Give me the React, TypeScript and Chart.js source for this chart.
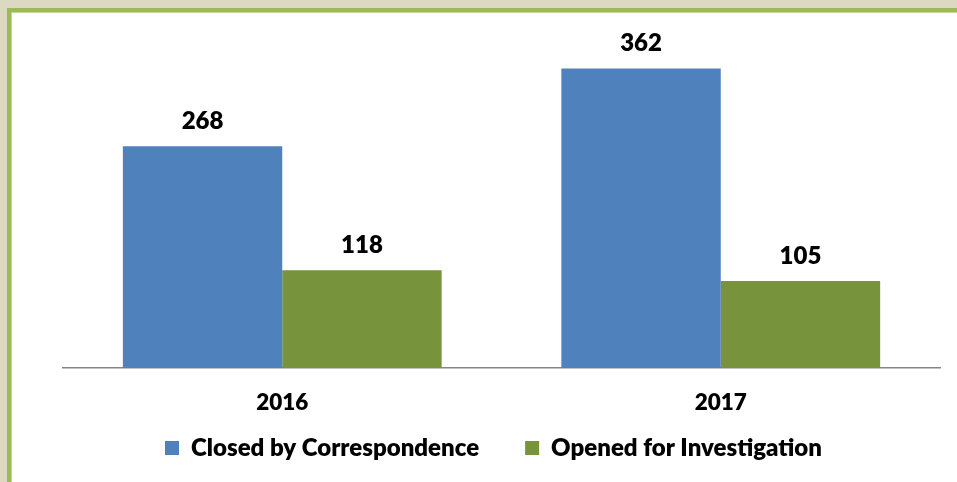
import React, { useEffect, useRef } from "react";
import { Chart, registerables } from "chart.js";

Chart.register(...registerables);

const categories = ["2016", "2017"];
const seriesNames = ["Closed by Correspondence", "Opened for Investigation"];
const closedValues = [268, 362];
const openedValues = [118, 105];
const seriesColors = ["#4F81BD", "#77933C"];

const FONT = "Lato";
const WEIGHT = 800;

const valueLabelPlugin = {
  id: "valueLabels",
  afterDatasetsDraw(chart: any) {
    const ctx = chart.ctx;
    ctx.save();
    ctx.font = `${WEIGHT} 24px ${FONT}`;
    ctx.fillStyle = "#000";
    ctx.textAlign = "center";
    ctx.textBaseline = "alphabetic";
    chart.data.datasets.forEach((ds: any, di: number) => {
      const meta = chart.getDatasetMeta(di);
      meta.data.forEach((bar: any, i: number) => {
        ctx.fillText(String(ds.data[i]), bar.x, bar.y - 17);
      });
    });
    ctx.restore();
  },
};

// Let the x-axis labels overflow the compact axis box (avoid label clipping)
// and nudge the legend horizontally.
const layoutTweakPlugin = {
  id: "layoutTweak",
  afterLayout(chart: any) {
    const x = chart.scales.x;
    if (x) {
      x.bottom = x.top + 60;
      x.height = 60;
    }
    const lg = chart.legend;
    if (lg) {
      lg.left -= 8;
      lg.right -= 8;
    }
  },
};

export default function App() {
  const ref = useRef<HTMLCanvasElement | null>(null);
  useEffect(() => {
    if (!ref.current) return;
    const chart = new Chart(ref.current, {
      type: "bar",
      data: {
        labels: categories,
        datasets: [
          { label: seriesNames[0], data: closedValues, backgroundColor: seriesColors[0] },
          { label: seriesNames[1], data: openedValues, backgroundColor: seriesColors[1] },
        ],
      },
      options: {
        animation: false,
        responsive: false,
        devicePixelRatio: 1,
        layout: { padding: { top: 37, left: 63, right: 17, bottom: 12 } },
        datasets: { bar: { barPercentage: 1, categoryPercentage: 0.727 } },
        scales: {
          x: {
            grid: { display: false, drawTicks: false },
            border: { display: true, color: "#868686", width: 1.5 },
            ticks: {
              color: "#000",
              padding: 21,
              font: { family: FONT, size: 22.5, weight: WEIGHT as any },
            },
            afterFit: (scale: any) => {
              scale.height = 22;
            },
          },
          y: { display: false, min: 0, max: 400 },
        },
        plugins: {
          tooltip: { enabled: false },
          legend: {
            position: "bottom",
            labels: {
              boxWidth: 14,
              boxHeight: 14,
              padding: 46,
              color: "#000",
              font: { family: FONT, size: 24, weight: WEIGHT as any },
            },
          },
        },
      },
      plugins: [valueLabelPlugin, layoutTweakPlugin],
    });
    return () => chart.destroy();
  }, []);

  return (
    <div
      style={{
        position: "fixed",
        left: 0,
        top: 0,
        width: 957,
        height: 482,
        background: "#DDD8C2",
        overflow: "hidden",
      }}
    >
      <div
        style={{
          position: "absolute",
          left: 7,
          top: 8,
          width: 980,
          height: 500,
          background: "#fff",
          borderTop: "4px solid #9BBB59",
          borderLeft: "4px solid #9BBB59",
          boxShadow: "inset 1px 1px 0 #C3D69B",
          boxSizing: "border-box",
        }}
      />
      <canvas
        ref={ref}
        width={957}
        height={482}
        style={{ position: "absolute", left: 0, top: 0, width: 957, height: 482 }}
      />
    </div>
  );
}
